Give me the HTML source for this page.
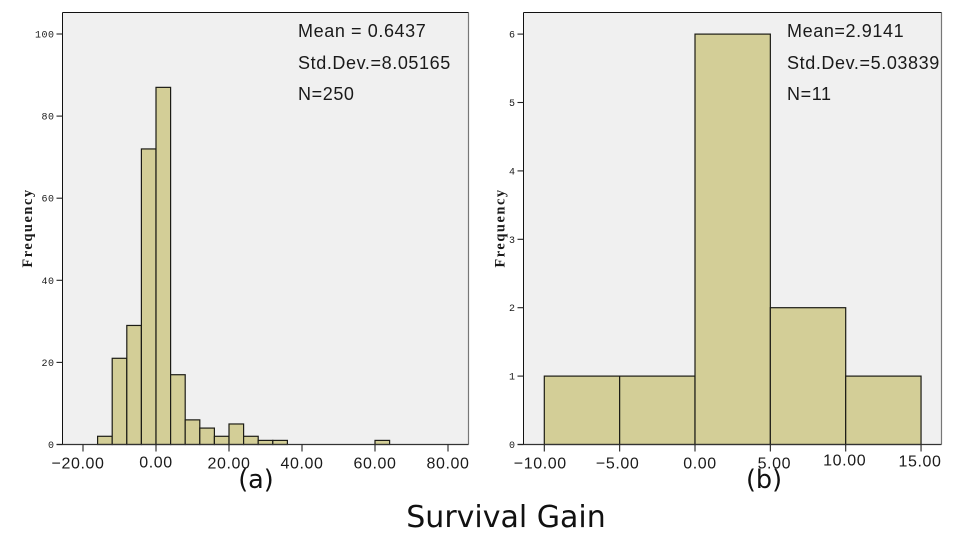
<!DOCTYPE html>
<html lang="en">
<head>
<meta charset="utf-8">
<title>Survival Gain histograms</title>
<style>
html,body{margin:0;padding:0;background:#fff;width:960px;height:542px;overflow:hidden}
svg{display:block}
text{fill:#1a1a1a}
.xt{font:16px "Liberation Sans",sans-serif;letter-spacing:.6px;text-anchor:middle}
.yt{font:10px "Liberation Mono",monospace;letter-spacing:.5px;text-anchor:end}
.ann{font:18px "Liberation Sans",sans-serif;letter-spacing:.6px}
.ylab{font:bold 14.5px "Liberation Serif",serif;letter-spacing:1.5px;text-anchor:middle}
.cap{font:25.5px "DejaVu Sans",sans-serif;text-anchor:middle;fill:#111}
.title{font:30px "DejaVu Sans",sans-serif;text-anchor:middle;fill:#111}
</style>
</head>
<body>
<svg id="figure" width="960" height="542" viewBox="0 0 960 542" xmlns="http://www.w3.org/2000/svg">
  <g id="panel-a"></g>
  <g id="panel-b"></g>
  <text class="ann" x="298" y="37">Mean = 0.6437</text>
  <text class="ann" x="298" y="69">Std.Dev.=8.05165</text>
  <text class="ann" x="298" y="100">N=250</text>
  <text class="ann" x="787" y="37">Mean=2.9141</text>
  <text class="ann" x="787" y="69">Std.Dev.=5.03839</text>
  <text class="ann" x="787" y="100">N=11</text>
  <text class="ylab" transform="translate(32,228) rotate(-90)">Frequency</text>
  <text class="ylab" transform="translate(504.5,228) rotate(-90)">Frequency</text>
  <text class="cap" x="256" y="488">(a)</text>
  <text class="cap" x="764" y="488">(b)</text>
  <text class="title" x="506" y="527">Survival Gain</text>
</svg>
<script>
// Panel (a) data
const binStartsA = [-16, -12, -8, -4, 0, 4, 8, 12, 16, 20, 24, 28, 32, 60];
const binWidthA = 4;
const countsA = [2, 21, 29, 72, 87, 17, 6, 4, 2, 5, 2, 1, 1, 1];
const xTicksA = [-20, 0, 20, 40, 60, 80];
const yTicksA = [0, 20, 40, 60, 80, 100];

// Panel (b) data
const binStartsB = [-10, -5, 0, 5, 10];
const binWidthB = 5;
const countsB = [1, 1, 6, 2, 1];
const xTicksB = [-10, -5, 0, 5, 10, 15];
const yTicksB = [0, 1, 2, 3, 4, 5, 6];

const SVGNS = 'http://www.w3.org/2000/svg';

function make(parent, tag, name, attrs, txt) {
  const el = document.createElementNS(SVGNS, tag);
  for (const k in attrs) el.setAttribute(k, attrs[k]);
  
  
  if (txt !== undefined) el.textContent = txt;
  parent.appendChild(el);
  return el;
}

function fmtX(v) {
  return (v < 0 ? '\u2212' : '') + Math.abs(v).toFixed(2);
}

function drawHistogram(cfg) {
  const g = document.getElementById(cfg.id);
  const sx = v => cfg.x0 + v * cfg.xScale;
  const sy = v => cfg.y0 - v * cfg.yScale;
  const p = cfg.suffix;

  make(g, 'rect', 'plot-background-' + p, {x: cfg.left, y: cfg.top, width: cfg.right - cfg.left, height: cfg.y0 - cfg.top, fill: '#f0f0f0'});

  cfg.starts.forEach((s, i) => {
    make(g, 'rect', 'bar-' + p + '-' + s, {
      x: sx(s), y: sy(cfg.counts[i]),
      width: sx(s + cfg.binWidth) - sx(s),
      height: sy(0) - sy(cfg.counts[i]),
      fill: '#d3ce97', stroke: '#1c1c16', 'stroke-width': 1.2
    });
  });

  // frame: black top and left and bottom, grey right
  make(g, 'line', 'plot-right-border-' + p, {x1: cfg.right, y1: cfg.top, x2: cfg.right, y2: cfg.y0, stroke: '#777', 'stroke-width': 1.2});
  make(g, 'line', 'plot-top-border-' + p, {x1: cfg.left, y1: cfg.top, x2: cfg.right, y2: cfg.top, stroke: '#111', 'stroke-width': 1});
  make(g, 'line', 'y-axis-line-' + p, {x1: cfg.left, y1: cfg.top, x2: cfg.left, y2: cfg.y0, stroke: '#111', 'stroke-width': 1});
  make(g, 'line', 'x-axis-line-' + p, {x1: cfg.left - 6, y1: cfg.y0, x2: cfg.right, y2: cfg.y0, stroke: '#333', 'stroke-width': 1.2});

  cfg.yTicks.forEach(v => {
    make(g, 'line', 'y-tick-' + p + '-' + v, {x1: cfg.left - 6, y1: sy(v), x2: cfg.left, y2: sy(v), stroke: '#222', 'stroke-width': 1.1});
    make(g, 'text', 'y-tick-label-' + p + '-' + v, {class: 'yt', x: cfg.left - 8, y: sy(v) + 3.5}, String(v));
  });

  cfg.xTicks.forEach((v, i) => {
    make(g, 'line', 'x-tick-' + p + '-' + v, {x1: sx(v), y1: cfg.y0, x2: sx(v), y2: cfg.y0 + 7, stroke: '#222', 'stroke-width': 1.1});
    make(g, 'text', 'x-tick-label-' + p + '-' + v, {class: 'xt', x: sx(v) + cfg.nudgeX[i], y: cfg.y0 + cfg.nudgeY[i]}, fmtX(v));
  });
}

drawHistogram({
  id: 'panel-a', suffix: 'a',
  left: 62.5, right: 468.5, top: 12.5, y0: 444.5,
  x0: 156, xScale: 3.65, yScale: 4.105,
  starts: binStartsA, counts: countsA, binWidth: binWidthA,
  xTicks: xTicksA, yTicks: yTicksA,
  nudgeX: [-5, 0, 0, 0, 0, 0],
  nudgeY: [24, 23, 24, 24, 24, 24]
});

drawHistogram({
  id: 'panel-b', suffix: 'b',
  left: 523.5, right: 941.5, top: 12.5, y0: 444.5,
  x0: 695, xScale: 15.07, yScale: 68.4,
  starts: binStartsB, counts: countsB, binWidth: binWidthB,
  xTicks: xTicksB, yTicks: yTicksB,
  nudgeX: [-4, -2, 5, 4, -1, -1],
  nudgeY: [24, 24, 24, 24, 21, 22]
});
</script>
</body>
</html>
